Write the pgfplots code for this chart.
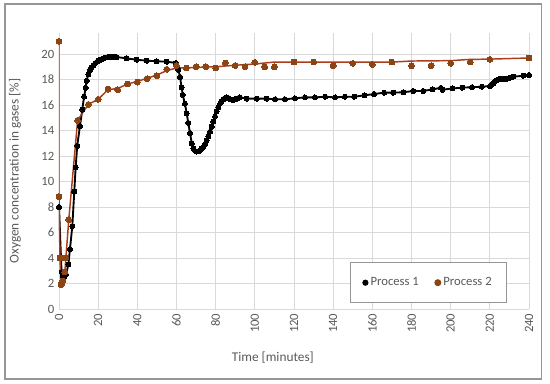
\documentclass[border=0pt]{standalone}
\usepackage{pgfplots}
\pgfplotsset{compat=1.18}
\usepackage{fontspec}
\setmainfont{Carlito}
\definecolor{txtgray}{RGB}{89,89,89}
\definecolor{gridgray}{RGB}{217,217,217}
\definecolor{framegray}{RGB}{150,150,150}
\definecolor{pmark}{RGB}{139,69,19}
\definecolor{pline}{RGB}{170,62,28}
\begin{document}
\begin{tikzpicture}
\path (0,0) rectangle (412.5pt,288pt);
\draw[framegray, line width=0.8pt] (3.75pt,3.75pt) rectangle (406.3pt,285pt);
\begin{axis}[
  at={(44.25pt,56.25pt)}, anchor=south west,
  scale only axis, width=352.5pt, height=207pt,
  xmin=0, xmax=240, ymin=0, ymax=21.65,
  xtick={0,20,...,240}, ytick={0,2,...,20},
  grid=major, major grid style={draw=gridgray, line width=0.6pt},
  axis line style={draw=none},
  major tick length=0pt,
  tick label style={font=\fontsize{9.5}{11}\selectfont, text=txtgray},
  /pgf/number format/assume math mode=true,
  xticklabel style={rotate=90, anchor=east},
  yticklabel style={anchor=east},
  xlabel={Time [minutes]}, ylabel={Oxygen concentration in gases [\%]},
  label style={font=\fontsize{10}{12}\selectfont, text=txtgray},
  xlabel style={at={(axis description cs:0.455,-0.1775)}, anchor=center},
  ylabel style={at={(axis description cs:-0.0936,0.5)}, anchor=center},
  legend columns=2,
  legend style={at={(axis description cs:0.953,0.0217)}, anchor=south east,
    draw=framegray, line width=0.8pt, fill=white, font=\fontsize{9.5}{11}\selectfont, text=txtgray,
    inner xsep=9pt, inner ysep=9pt,
    /tikz/every even column/.append style={column sep=10pt}},
]
\addplot[black, line width=1.4pt, mark=*, mark size=1.9pt, mark options={fill=black, line width=0pt}, forget plot] coordinates {
(0,8.0)(1.3,2.9)(2,2.6)(2.7,2.5)(3.2,2.8)(3.6,2.7)(4.8,3.5)(5.6,4.7)(6.8,6.5)(7.8,9.2)
(8.5,11.1)(9.3,12.8)(10.7,14.35)(11.9,15.65)(12.8,16.65)(13.6,17.35)(14.1,17.9)(15,18.4)(15.8,18.75)(16.6,18.95)
(17.5,19.1)(18.4,19.25)(19.3,19.38)(20.2,19.47)(21.1,19.55)(22,19.62)(22.9,19.68)(23.8,19.72)(24.7,19.75)(25.6,19.78)
(26.5,19.8)(27.4,19.8)(28.3,19.79)(29.5,19.76)(34.6,19.66)(39.7,19.55)(44.8,19.48)(49.9,19.43)(55,19.4)(59.6,19.3)
(60.3,19.0)(61,18.75)(61.8,18.2)(62.6,17.4)(63.2,16.8)(64.3,16.1)(65.2,15.35)(66,14.6)(66.9,13.8)(67.8,13.0)
(68.6,12.6)(69.5,12.4)(70.3,12.35)(71.2,12.38)(72,12.45)(72.9,12.58)(73.7,12.7)(74.6,12.95)(75.4,13.25)(76.3,13.55)
(77.1,13.9)(78,14.3)(78.8,14.7)(79.7,15.1)(80.5,15.5)(81.4,15.8)(82.2,16.1)(83,16.3)(83.9,16.45)(84.7,16.55)
(85.6,16.6)(86.5,16.55)(87.3,16.45)(88.2,16.42)(89,16.4)(89.9,16.45)(90.7,16.5)(91.6,16.55)(92.4,16.6)(95.8,16.5)
(101,16.5)(106,16.5)(110.3,16.45)(115.4,16.45)(120.5,16.53)(125.6,16.6)(130.7,16.6)(135.9,16.65)(141,16.6)(146,16.65)
(150.8,16.65)(155.9,16.76)(160.9,16.86)(166,16.97)(170.7,16.97)(175.8,17.0)(180.9,17.1)(186,17.1)(190.8,17.23)(195,17.35)
(195.8,17.2)(200.9,17.3)(206,17.36)(210.9,17.4)(215.9,17.43)(220.1,17.5)(221,17.6)(221.8,17.7)(222.6,17.85)(223.5,17.96)
(224.3,18.02)(225.2,18.06)(226.1,18.06)(227,18.06)(227.8,18.06)(228.6,18.06)(229.5,18.1)(230.3,18.14)(231.1,18.18)(232,18.22)
(237.1,18.3)(240,18.35)
};
\addplot[pline, line width=1.1pt, forget plot] coordinates {
(0,21)(0,8.8)(0.5,4)(1,1.9)(1.5,2.0)(2,2.2)(3,2.9)(3.5,4)(5,7)(9.5,14.8)(15,16.05)(20,16.45)(25,17.2)(30,17.3)
(35,17.65)(40,17.85)(45,18.1)(50,18.35)(55,18.7)(60,18.9)(70,18.95)(80,19.0)(90,19.12)(100,19.22)(110,19.37)
(120,19.37)(170,19.37)(180,19.45)(200,19.48)(210,19.58)(220,19.6)(240,19.69)
};
\addplot[only marks, mark=*, mark size=2.2pt, mark options={fill=pmark, draw=pmark, line width=0pt}, forget plot] coordinates {
(0,21)(0,8.8)(0.5,4)(1,1.9)(1.5,2.0)(2,2.2)(3,2.9)(3.5,4)(5,7)(9.5,14.8)(15,16.05)(20,16.45)(25,17.25)(30,17.2)
(35,17.65)(40,17.8)(45,18.06)(50,18.3)(55,18.8)(60,19.1)(65,18.9)(70,19.0)(75,19.0)(80,18.9)(85,19.3)(90,19.1)
(95,19.0)(100,19.35)(105,19.0)(110,19.0)(120,19.37)(130,19.37)(140,19.08)(150,19.27)(160,19.19)(170,19.37)
(180,19.08)(190,19.08)(200,19.27)(210,19.37)(220,19.58)(240,19.69)
};
\addlegendimage{only marks, mark=*, mark size=1.9pt, mark options={fill=black, draw=black}}
\addlegendentry{Process 1}
\addlegendimage{only marks, mark=*, mark size=2.2pt, mark options={fill=pmark, draw=pmark}}
\addlegendentry{Process 2}
\end{axis}
\end{tikzpicture}
\end{document}
